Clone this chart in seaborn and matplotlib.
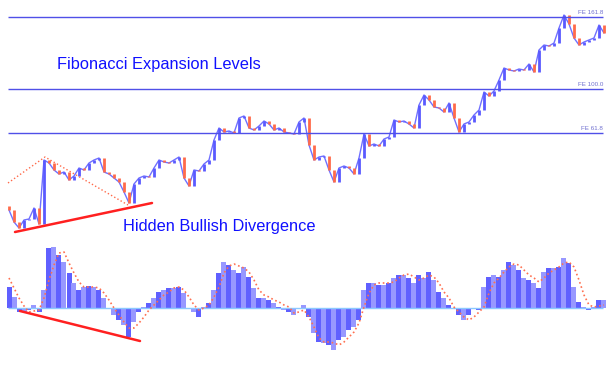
import numpy as np
import seaborn as sns
import matplotlib.pyplot as plt

sns.set_style("white")
plt.rcParams['font.family'] = ['Liberation Sans', 'DejaVu Sans']

# closing prices, one per bar (open = previous close)
closes = [30, 18, 12, 20, 21, 32, 16, 80, 77, 70,
          66, 68, 60, 64, 72, 70, 77, 80, 82, 68,
          66, 62, 58, 48, 37, 56, 62, 64, 63, 72,
          80, 78, 77, 80, 83, 62, 54, 70, 69, 76,
          80, 100, 112, 108, 109, 107, 122, 124, 112, 110,
          114, 119, 116, 110, 112, 108, 107, 106, 118, 122,
          95, 80, 83, 84, 70, 58, 72, 74, 72, 66,
          82, 106, 94, 96, 94, 101, 103, 120, 118, 119,
          116, 112, 135, 145, 140, 133, 132, 128, 137, 122,
          108, 116, 118, 125, 130, 148, 144, 149, 160, 172,
          170, 169, 171, 170, 176, 168, 190, 195, 194, 197,
          212, 225, 216, 202, 195, 198, 200, 202, 215, 207]

# MACD histogram and signal line
macd = [21, 11, -4, -4, -2, 3, -4, 18, 60, 61,
        53, 46, 35, 25, 18, 21, 22, 21, 18, 10,
        0, -7, -12, -17, -29, -14, -4, 1, 5, 10,
        16, 18, 20, 20, 21, 15, 0, -4, -9, 1,
        5, 18, 35, 46, 43, 38, 35, 41, 31, 20,
        10, 10, 8, 5, 1, -2, -4, -7, 0, 3,
        -9, -25, -34, -35, -37, -42, -32, -29, -22, -19,
        -12, 18, 25, 25, 23, 23, 25, 30, 33, 33,
        30, 25, 33, 30, 36, 28, 16, 10, 3, 0,
        -7, -12, -7, 0, -2, 21, 31, 33, 31, 38,
        46, 43, 38, 30, 28, 25, 20, 36, 40, 40,
        41, 50, 45, 21, 6, 1, -2, 1, 8, 8]
signal = [30, 20, 10, 2, -4, -3, -2, 10, 28, 43,
          55, 56, 45, 35, 26, 21, 21, 21, 20, 15,
          8, 0, -7, -14, -20, -20, -15, -9, -2, 3,
          8, 13, 16, 20, 21, 18, 11, 3, -2, 0,
          3, 11, 21, 35, 42, 44, 42, 40, 36, 28,
          18, 13, 11, 8, 6, 3, 1, -5, -4, -2,
          -9, -19, -30, -34, -34, -35, -37, -34, -29, -24,
          -15, 1, 15, 23, 25, 25, 25, 26, 30, 33,
          34, 31, 28, 30, 33, 31, 25, 16, 10, 1,
          -4, -9, -12, -9, -4, 1, 15, 25, 30, 36,
          41, 44, 43, 38, 33, 30, 26, 30, 35, 38,
          41, 45, 46, 41, 28, 13, 3, 1, 2, 3]

fe_levels = [223, 151, 107]
fe_labels = ["FE 161.8", "FE 100.0", "FE 61.8"]

idx = np.arange(len(closes))
closes = np.array(closes)
opens = np.r_[closes[0] + 4, closes[:-1]]

fig = plt.figure(figsize=(6.16, 3.79), dpi=100)
ax1 = fig.add_axes([0, 139 / 379, 1, 240 / 379])
ax2 = fig.add_axes([0, 0, 1, 139 / 379])

up_col, dn_col = '#5a5aff', '#ff6a4a'
cols = [up_col if c >= o else dn_col for o, c in zip(opens, closes)]
sns.lineplot(x=idx, y=closes, ax=ax1, color='#7070ff', linewidth=1)
ax1.vlines(idx, opens, closes, colors=cols, linewidth=2.0)

for lvl, lab in zip(fe_levels, fe_labels):
    ax1.hlines(lvl, -0.2, 118.8, color='#5050e8', linewidth=1)
    ax1.text(118.8, lvl + 1.5, lab, ha='right', va='bottom', fontsize=4.5,
             color='#7070d0')

# trend lines
ax1.plot([-0.2, 7.2, 23.8], [57, 83, 35], color='#ff6a4a', linestyle=':',
         linewidth=1)
ax1.plot([1.2, 28.6], [8, 37], color='#ff2020', linewidth=1.8)

ax1.text(9.6, 175, "Fibonacci Expansion Levels", fontsize=11.8,
         color='#1010ff', va='center')
ax1.text(22.8, 13, "Hidden Bullish Divergence", fontsize=11.8,
         color='#1010ff', va='center')

ax1.set_xlim(-1.8, 121.4)
ax1.set_ylim(0, 240)

# MACD panel
bar_cols = ['#6060ff' if i % 2 == 0 else '#9898ff' for i in idx]
ax2.bar(idx, macd, width=1.0, color=bar_cols, linewidth=0)
ax2.hlines(0, -0.2, 118.8, color='#8cc8ff', linewidth=1)
sns.lineplot(x=idx, y=signal, ax=ax2, color='#ff7050', linestyle=':',
             linewidth=1.2)
ax2.plot([2.2, 26.2], [-3, -33], color='#ff2020', linewidth=1.8)
ax2.set_xlim(-1.8, 121.4)
ax2.set_ylim(-71, 68)

for ax in (ax1, ax2):
    ax.set_xticks([])
    ax.set_yticks([])
    sns.despine(ax=ax, left=True, bottom=True)

fig.savefig("out.png", dpi=100)
